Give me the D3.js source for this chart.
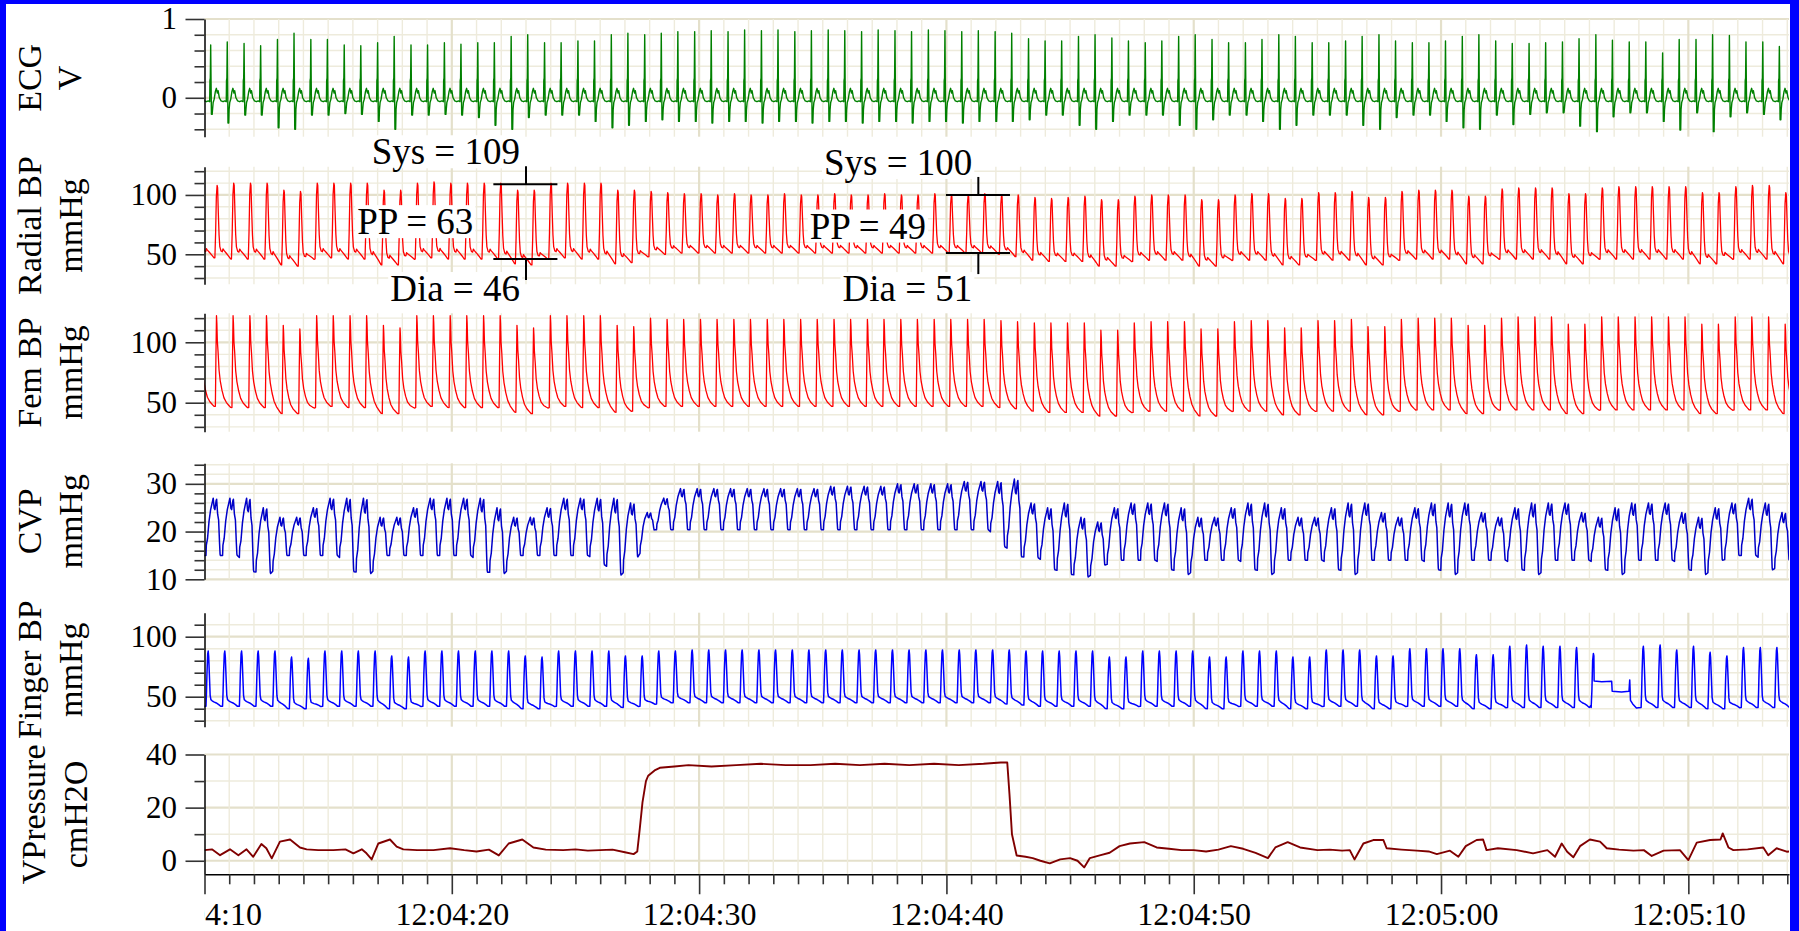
<!DOCTYPE html>
<html>
<head>
<meta charset="utf-8">
<title>Hemodynamic recording</title>
<script src="https://cdn.jsdelivr.net/npm/d3@7/dist/d3.min.js"></script>
<style>
  html, body { margin: 0; padding: 0; background: #fff; }
  svg { display: block; }
</style>
</head>
<body>
<svg id="chart" width="1799" height="931"></svg>
<script>
// Six-channel physiological recording, 12:04:10 - 12:05:14
// Traces are rebuilt beat by beat from per-beat values

// ---- time axis (seconds after 12:04:00) ----
const TIME_DOMAIN = [10, 74.07];
const TIME_MAJOR = [10, 20, 30, 40, 50, 60, 70];
const TIME_LABELS = ['12:04:10', '12:04:20', '12:04:30', '12:04:40', '12:04:50', '12:05:00', '12:05:10'];

// ---- y ticks ----
const ECG_TICKS = [0, 1];
const ECG_MINOR = [-0.4, -0.2, 0, 0.2, 0.4, 0.6, 0.8, 1];
const BP_TICKS = [50, 100];
const BP_MINOR = [30, 40, 50, 60, 70, 80, 90, 100, 110, 120];
const CVP_TICKS = [10, 20, 30];
const CVP_MINOR = [10, 12, 14, 16, 18, 20, 22, 24, 26, 28, 30, 32, 34];
const VP_TICKS = [0, 20, 40];
const VP_MINOR = [0, 10, 20, 30, 40];

// ---- beat times (R wave, s) ----
const BEAT_T = [9.58, 10.25, 10.92, 11.60, 12.27, 12.95, 13.62, 14.30, 14.97, 15.65,
  16.32, 17.00, 17.67, 18.35, 19.02, 19.70, 20.37, 21.05, 21.72, 22.40,
  23.07, 23.75, 24.42, 25.10, 25.77, 26.45, 27.12, 27.80, 28.47, 29.14,
  29.82, 30.49, 31.17, 31.84, 32.52, 33.19, 33.87, 34.54, 35.22, 35.89,
  36.57, 37.24, 37.92, 38.59, 39.27, 39.94, 40.62, 41.29, 41.97, 42.64,
  43.32, 43.99, 44.66, 45.34, 46.01, 46.69, 47.36, 48.04, 48.71, 49.39,
  50.06, 50.74, 51.41, 52.09, 52.76, 53.44, 54.11, 54.79, 55.46, 56.14,
  56.81, 57.49, 58.16, 58.84, 59.51, 60.18, 60.86, 61.53, 62.21, 62.88,
  63.56, 64.23, 64.91, 65.58, 66.26, 66.93, 67.61, 68.28, 68.96, 69.63,
  70.31, 70.98, 71.66, 72.33, 73.01, 73.68, 74.36];

// ---- ECG (V) ----
const ECG_R = [0.70, 0.67, 0.71, 0.69, 0.66, 0.74, 0.82, 0.74, 0.74, 0.67,
  0.66, 0.70, 0.78, 0.67, 0.67, 0.70, 0.68, 0.70, 0.70, 0.78,
  0.80, 0.70, 0.70, 0.72, 0.72, 0.80, 0.82, 0.80, 0.82, 0.84,
  0.84, 0.85, 0.84, 0.86, 0.85, 0.86, 0.84, 0.85, 0.86, 0.85,
  0.84, 0.86, 0.85, 0.84, 0.86, 0.85, 0.84, 0.85, 0.84, 0.82,
  0.75, 0.72, 0.72, 0.78, 0.80, 0.76, 0.72, 0.70, 0.72, 0.78,
  0.80, 0.74, 0.70, 0.70, 0.74, 0.80, 0.78, 0.70, 0.70, 0.72,
  0.78, 0.80, 0.72, 0.70, 0.70, 0.72, 0.78, 0.80, 0.72, 0.69,
  0.69, 0.70, 0.71, 0.75, 0.80, 0.73, 0.71, 0.71, 0.57, 0.74,
  0.74, 0.80, 0.79, 0.71, 0.71, 0.65, 0.70];
const ECG_S = [-0.25, -0.21, -0.32, -0.22, -0.22, -0.38, -0.40, -0.22, -0.22, -0.20,
  -0.21, -0.30, -0.40, -0.22, -0.22, -0.21, -0.22, -0.25, -0.35, -0.40,
  -0.25, -0.22, -0.22, -0.22, -0.30, -0.38, -0.35, -0.30, -0.28, -0.30,
  -0.30, -0.32, -0.30, -0.30, -0.32, -0.30, -0.30, -0.32, -0.30, -0.30,
  -0.32, -0.30, -0.30, -0.32, -0.30, -0.30, -0.32, -0.30, -0.30, -0.30,
  -0.28, -0.22, -0.22, -0.35, -0.40, -0.30, -0.22, -0.22, -0.22, -0.35,
  -0.40, -0.28, -0.22, -0.22, -0.30, -0.40, -0.35, -0.22, -0.22, -0.22,
  -0.35, -0.40, -0.25, -0.22, -0.22, -0.30, -0.38, -0.40, -0.22, -0.34,
  -0.21, -0.19, -0.19, -0.36, -0.43, -0.24, -0.19, -0.19, -0.30, -0.41,
  -0.19, -0.43, -0.24, -0.19, -0.21, -0.28, -0.22];
// one complex around the R wave: [s from R, V] ('R' / 'S' take the per-beat value)
const ECG_SHAPE = [[-0.10, -0.04], [-0.04, -0.05], [-0.03, 0.22], [-0.015, 0.25], [0, 'R'],
  [0.015, 0.20], [0.03, 'S'], [0.06, 'S'], [0.075, -0.15], [0.10, -0.06], [0.14, -0.02],
  [0.19, 0.08], [0.23, 0.12], [0.27, 0.06], [0.30, 0.09], [0.35, 0.00], [0.42, -0.04],
  [0.50, -0.05], [0.57, -0.04]];

// ---- Radial BP (mmHg) ----
const RAD_SYS = [110, 108, 110, 110, 110, 104, 103, 110, 110, 110,
  110, 104, 104, 110, 111, 110, 110, 110, 110, 104,
  104, 110, 110, 110, 110, 104, 104, 103, 102, 101,
  101, 100, 101, 100, 100, 101, 100, 100, 101, 100,
  100, 101, 100, 100, 101, 100, 100, 101, 100, 100,
  98, 97, 98, 99, 96, 96, 99, 100, 100, 100,
  96, 96, 100, 101, 101, 97, 97, 102, 102, 103,
  98, 98, 103, 104, 104, 104, 99, 99, 105, 106,
  106, 106, 101, 101, 106, 107, 107, 107, 107, 107,
  102, 102, 107, 108, 108, 102, 107];
const RAD_DIA = [46, 47, 46, 46, 46, 41, 40, 46, 47, 46,
  46, 41, 41, 46, 47, 46, 46, 46, 46, 42,
  41, 46, 47, 46, 46, 42, 43, 48, 50, 51,
  51, 51, 51, 51, 51, 51, 51, 51, 51, 51,
  51, 51, 51, 51, 51, 51, 51, 51, 50, 48,
  45, 44, 44, 44, 40, 40, 44, 45, 45, 45,
  40, 40, 45, 45, 45, 41, 41, 45, 45, 45,
  41, 41, 45, 46, 46, 46, 42, 42, 46, 46,
  46, 46, 42, 42, 46, 46, 46, 46, 46, 46,
  42, 42, 46, 46, 46, 42, 46];
const RAD_SHAPE = [[0, 0], [0.03, 0.35], [0.06, 0.85], [0.09, 1], [0.11, 0.97], [0.14, 0.62],
  [0.17, 0.32], [0.20, 0.16], [0.25, 0.10], [0.30, 0.09], [0.33, 0.13], [0.37, 0.11],
  [0.45, 0.08], [0.55, 0.04], [0.64, 0], [0.675, 0]];

// ---- Femoral BP (mmHg) ----
const FEM_SYS = [122, 122, 122, 122, 122, 114, 111, 122, 122, 122,
  122, 114, 112, 122, 122, 122, 122, 122, 122, 114,
  112, 122, 122, 122, 122, 114, 113, 120, 119, 119,
  119, 119, 119, 119, 119, 119, 119, 119, 119, 119,
  119, 119, 119, 119, 119, 119, 119, 119, 118, 117,
  116, 116, 116, 116, 110, 110, 116, 117, 117, 117,
  111, 111, 117, 118, 118, 112, 112, 118, 118, 119,
  113, 113, 119, 120, 120, 120, 114, 114, 120, 121,
  121, 121, 115, 115, 121, 121, 121, 121, 121, 121,
  115, 115, 121, 121, 121, 115, 121];
const FEM_DIA = [47, 47, 46, 46, 46, 41, 41, 46, 47, 46,
  46, 41, 41, 46, 47, 46, 46, 46, 46, 42,
  41, 46, 47, 46, 46, 42, 43, 46, 47, 47,
  47, 47, 47, 47, 47, 47, 47, 47, 47, 47,
  47, 47, 47, 47, 47, 47, 47, 47, 46, 45,
  43, 42, 42, 42, 39, 39, 42, 43, 43, 43,
  39, 39, 43, 43, 43, 40, 40, 43, 43, 43,
  40, 40, 43, 44, 44, 44, 41, 41, 44, 44,
  44, 44, 41, 41, 44, 44, 44, 44, 44, 44,
  41, 41, 44, 44, 44, 41, 44];
const FEM_SHAPE = [[0, 0], [0.02, 0.5], [0.045, 1], [0.06, 0.92], [0.08, 0.72], [0.11, 0.60],
  [0.15, 0.40], [0.20, 0.28], [0.27, 0.18], [0.35, 0.10], [0.45, 0.05], [0.55, 0.02],
  [0.62, 0], [0.675, 0]];

// ---- CVP (mmHg): peak of each beat and the trough that follows it ----
const CVP_PEAK = [27, 27, 27, 27, 25, 23, 23, 25, 27, 27,
  27, 23, 23, 25, 27, 27, 27, 27, 25, 23,
  23, 25, 27, 27, 27, 27, 26, 24, 27, 29,
  29, 29, 29, 29, 29, 29, 29, 29, 29.5, 29.5,
  29.5, 29.5, 30, 30, 30, 30, 30.5, 30.5, 30.5, 31,
  26, 25, 26, 23, 22, 25, 26, 26, 26, 25,
  23, 23, 25, 26, 26, 25, 23, 23, 25, 26,
  26, 24, 23, 25, 26, 26, 26, 24, 23, 25,
  26, 26, 26, 24, 23, 25, 26, 26, 26, 24,
  23, 25, 26, 27, 26, 24, 26];
const CVP_TROUGH = [15, 15, 15, 15, 11.6, 11.2, 15, 15, 15, 15,
  11.6, 11.2, 15, 15, 15, 15, 15, 15, 11.5, 11.2,
  15, 15, 15, 15, 15, 13, 10.9, 14.7, 20.4, 20.4,
  20.4, 20.4, 20.4, 20.4, 20.4, 20.4, 20.4, 20.4, 20.4, 20.4,
  20.4, 20.4, 20.4, 20.4, 20.4, 20.4, 20.4, 20.4, 20.4, 16.8,
  14.7, 14.5, 12, 11, 10.5, 13, 14, 14, 14, 12,
  11, 14, 14, 14, 12, 11, 14, 14, 14, 12,
  11, 14, 14, 14, 14, 12, 11, 14, 14, 14,
  12, 11, 14, 14, 14, 12, 11, 14, 14, 14,
  12, 11, 14, 15, 15, 12, 14];
const CVP_SHAPE = [[0, 0], [0.085, 0], [0.10, 0.18], [0.15, 0.30], [0.21, 0.60], [0.275, 0.80],
  [0.38, 1], [0.42, 0.82], [0.45, 0.80], [0.50, 0.96], [0.52, 0.98], [0.56, 0.72],
  [0.60, 0.62], [0.64, 0.20], [0.66, 0.02], [0.675, 0]];

// ---- Finger BP (mmHg); null = beats lost in the cuff artifact ----
const FING_SYS = [88, 88, 88, 88, 88, 88, 83, 82, 88, 88,
  88, 88, 84, 83, 88, 88, 88, 88, 88, 88,
  84, 83, 88, 88, 88, 88, 84, 84, 88, 88,
  89, 89, 89, 89, 89, 89, 89, 89, 89, 89,
  89, 89, 89, 89, 89, 89, 89, 89, 89, 89,
  88, 88, 88, 88, 88, 83, 83, 88, 88, 88,
  88, 83, 83, 88, 88, 88, 83, 83, 89, 89,
  89, 84, 84, 90, 90, 90, 90, 85, 85, 92,
  93, 92, 92, 91, null, null, null, 92, 93, 89,
  92, 87, 84, 91, 91, 91, 91];
const FING_DIA = [42, 42, 42, 42, 42, 42, 40, 40, 42, 42,
  42, 42, 40, 40, 42, 42, 42, 42, 42, 42,
  40, 40, 42, 42, 42, 42, 41, 42, 44, 45,
  45, 45, 45, 45, 45, 45, 45, 45, 45, 45,
  45, 45, 45, 45, 45, 45, 45, 45, 45, 44,
  43, 42, 42, 42, 42, 40, 40, 42, 42, 42,
  42, 40, 40, 42, 42, 42, 40, 40, 42, 42,
  42, 40, 40, 42, 42, 42, 42, 40, 40, 41,
  41, 41, 41, 41, null, null, null, 41, 41, 41,
  41, 40, 40, 41, 41, 41, 41];
const FING_SHAPE = [[0, 0], [0.02, 0.25], [0.04, 0.60], [0.07, 0.95], [0.09, 1], [0.11, 0.90],
  [0.14, 0.55], [0.17, 0.20], [0.20, 0.12], [0.25, 0.10], [0.32, 0.08], [0.42, 0.06],
  [0.52, 0.03], [0.60, 0], [0.675, 0]];
// cuff artifact around 12:05:06
const FING_GAP = [[66.07, 43], [66.10, 55], [66.13, 80], [66.16, 86], [66.18, 84], [66.19, 63],
  [66.5, 62.5], [66.9, 62.8], [66.92, 54.5], [67.3, 54], [67.6, 54.5], [67.63, 64],
  [67.66, 47], [67.75, 44], [67.9, 40.5]];

// ---- VPressure (cmH2O): [s, value] ----
const VP = [[10.0, 4.0], [10.3, 4.3], [10.63, 2.1], [11.03, 4.3], [11.37, 2.1], [11.7, 4.3],
  [11.97, 1.5], [12.3, 6.3], [12.5, 4.7], [12.72, 0.9], [13.05, 7.2], [13.46, 8.0],
  [13.86, 5.0], [14.13, 4.3], [14.6, 4.0], [15.21, 4.0], [15.7, 4.3], [16.02, 2.8],
  [16.36, 4.3], [16.55, 2.8], [16.76, 0.5], [17.03, 6.5], [17.5, 8.0], [17.77, 5.3],
  [18.04, 4.3], [18.6, 4.0], [19.26, 4.0], [19.93, 4.7], [20.5, 4.0], [21.0, 3.5],
  [21.5, 4.2], [21.9, 2.0], [22.3, 6.5], [22.85, 8.0], [23.3, 5.0], [23.8, 4.2],
  [24.5, 4.0], [25.0, 4.3], [25.5, 3.8], [26.0, 4.0], [26.5, 4.2], [27.0, 3.2],
  [27.35, 2.5], [27.5, 3.5], [27.6, 12], [27.71, 22], [27.85, 30], [27.94, 32],
  [28.2, 34], [28.41, 35], [29.0, 35.5], [29.57, 36], [30.5, 35.5], [31.5, 36],
  [32.5, 36.5], [33.5, 36], [34.5, 36], [35.5, 36.5], [36.5, 36], [37.5, 36.5],
  [38.5, 36], [39.5, 36.5], [40.5, 36], [41.5, 36.5], [42.2, 37], [42.46, 37],
  [42.55, 25], [42.65, 10], [42.84, 2], [43.2, 1.5], [43.49, 1], [43.8, 0],
  [44.18, -1], [44.6, 0.5], [45.0, 1], [45.3, 0], [45.57, -2.5], [45.8, 1],
  [46.2, 2], [46.6, 3], [47.0, 5.5], [47.42, 6.5], [48.0, 7], [48.5, 5],
  [49.0, 4.5], [49.51, 4], [50.0, 4], [50.5, 3.5], [51.0, 4.2], [51.5, 5.5],
  [52.0, 4.5], [52.5, 3.0], [53.0, 1.0], [53.3, 5], [53.8, 7], [54.3, 5],
  [55.0, 4], [55.5, 4.2], [56.0, 3.8], [56.31, 4], [56.5, 0.5], [56.86, 6.5],
  [57.26, 7.8], [57.67, 7.8], [57.8, 4.7], [58.4, 4.2], [59.02, 3.8], [59.5, 3.5],
  [59.83, 2.5], [60.36, 3.8], [60.7, 1.5], [61.0, 5.5], [61.44, 7.8], [61.7, 8],
  [61.84, 4], [62.3, 4.7], [63.06, 4], [63.72, 2.8], [64.3, 4], [64.61, 1.5],
  [64.88, 6.5], [65.1, 3.4], [65.35, 1.3], [65.62, 5.5], [66.02, 8], [66.43, 7.2],
  [66.7, 4.7], [67.2, 4.2], [67.78, 3.8], [68.2, 4], [68.52, 1.8], [69.0, 3.8],
  [69.66, 4], [70.0, 0.25], [70.34, 6.8], [70.88, 7.8], [71.3, 8], [71.39, 10.3],
  [71.62, 5], [71.82, 4], [72.4, 4.3], [73.03, 5], [73.23, 2.1], [73.57, 4.7],
  [73.98, 3.4], [74.1, 3.5]];

// ---- pulse pressure callouts on the radial trace ----
const CALLOUTS = [
  { sys: 109, dia: 46, pp: 63, t0: 21.68, t1: 24.27, tc: 23.0 },
  { sys: 100, dia: 51, pp: 49, t0: 39.98, t1: 42.57, tc: 41.29 }
];

// ---------------------------------------------------------------

// ECG: place the complex on every R wave
function ecgSeries() {
  const pts = [];
  BEAT_T.forEach((r, i) => {
    ECG_SHAPE.forEach(([dt, v]) => {
      const val = v === 'R' ? ECG_R[i] : v === 'S' ? ECG_S[i] : v;
      pts.push([r + dt, val]);
    });
  });
  return pts;
}

// pressure: one pulse per beat, stretched between this beat's floor and the next one
function pulseSeries(offset, hi, lo, shape, extra) {
  const pts = [];
  const len = shape[shape.length - 1][0];
  for (let i = 0; i < BEAT_T.length - 1; i++) {
    if (hi[i] == null) continue;
    const t0 = BEAT_T[i] + offset;
    const dur = BEAT_T[i + 1] - BEAT_T[i];
    const loA = lo[i];
    const loB = lo[i + 1] == null ? lo[i] : lo[i + 1];
    shape.forEach(([dt, s]) => {
      const f = dt / len;
      const base = loA + (loB - loA) * f;
      pts.push([t0 + f * dur, base + s * (hi[i] - base)]);
    });
  }
  if (extra) extra.forEach(p => pts.push(p));
  return pts.sort((a, b) => a[0] - b[0]);
}

const svg = d3.select('#chart');
const W = 1799, H = 931;
const PLOT_L = 204.5, PLOT_R = 1789;
const FONT = '"Liberation Serif", "Times New Roman", serif';

const x = d3.scaleLinear().domain(TIME_DOMAIN).range([PLOT_L, PLOT_R]);

const panels = [
  { label: ['ECG', 'V'], domain: [-0.494, 1], range: [136.7, 19], ticks: ECG_TICKS, minor: ECG_MINOR,
    color: '#008000', data: ecgSeries(), lx: [41, 81], width: 1.4 },
  { label: ['Radial BP', 'mmHg'], domain: [24.7, 123.8], range: [284.3, 166.7], ticks: BP_TICKS, minor: BP_MINOR,
    color: '#ff0000', data: pulseSeries(0.17, RAD_SYS, RAD_DIA, RAD_SHAPE), lx: [41, 82] },
  { label: ['Fem BP', 'mmHg'], domain: [26, 124], range: [431.7, 313.3], ticks: BP_TICKS, minor: BP_MINOR,
    color: '#ff0000', data: pulseSeries(0.19, FEM_SYS, FEM_DIA, FEM_SHAPE), lx: [41, 82] },
  { label: ['CVP', 'mmHg'], domain: [10, 34.3], range: [579.3, 463.3], ticks: CVP_TICKS, minor: CVP_MINOR,
    color: '#0000c8', data: pulseSeries(-0.275, CVP_PEAK, CVP_TROUGH, CVP_SHAPE), lx: [41, 82], width: 1.5 },
  { label: ['Finger BP', 'mmHg'], domain: [25, 120], range: [726.7, 612.7], ticks: BP_TICKS, minor: BP_MINOR.slice(0, -1),
    color: '#0000ff', data: pulseSeries(-0.19, FING_SYS, FING_DIA, FING_SHAPE, FING_GAP), lx: [41, 82], width: 1.5 },
  { label: ['VPressure', 'cmH2O'], domain: [-5.1, 40], range: [874.3, 754.5], ticks: VP_TICKS, minor: VP_MINOR,
    color: '#800000', data: VP, lx: [45, 87], width: 1.9 }
];
panels.forEach(p => { p.y = d3.scaleLinear().domain(p.domain).range(p.range); });

svg.append('defs').append('clipPath').attr('id', 'plotClip')
  .append('rect').attr('x', PLOT_L).attr('y', 0).attr('width', PLOT_R - PLOT_L).attr('height', H);
svg.select('defs').append('clipPath').attr('id', 'labelClip')
  .append('rect').attr('x', PLOT_L - 0.5).attr('y', 0).attr('width', W).attr('height', H);

// Grid
const seconds = d3.range(11, 75);
panels.forEach(p => {
  const g = svg.append('g');
  const top = p.range[1], bot = p.range[0];
  g.selectAll('.hg').data(p.minor).enter().append('line')
    .attr('x1', PLOT_L).attr('x2', PLOT_R)
    .attr('y1', d => p.y(d)).attr('y2', d => p.y(d))
    .attr('stroke', d => p.ticks.includes(d) ? '#e4e0cb' : '#eeebdc')
    .attr('stroke-width', d => p.ticks.includes(d) ? 2.2 : 1.4);
  g.selectAll('.vg').data(seconds.filter(s => s <= TIME_DOMAIN[1])).enter().append('line')
    .attr('x1', d => x(d)).attr('x2', d => x(d))
    .attr('y1', top).attr('y2', bot)
    .attr('stroke', d => d % 10 === 0 ? '#e4e0cb' : '#eeebdc')
    .attr('stroke-width', d => d % 10 === 0 ? 2.2 : 1.4);
});

// Traces
panels.forEach(p => {
  const line = d3.line().x(d => x(d[0])).y(d => p.y(d[1]));
  svg.append('path')
    .datum(p.data)
    .attr('clip-path', 'url(#plotClip)')
    .attr('d', line)
    .attr('fill', 'none')
    .attr('stroke', p.color)
    .attr('stroke-width', p.width || 1.3)
    .attr('stroke-linejoin', 'round');
});

// Y axes
panels.forEach(p => {
  const g = svg.append('g').attr('transform', `translate(${PLOT_L},0)`);
  g.append('g')
    .call(d3.axisLeft(p.y).tickValues(p.minor.filter(v => !p.ticks.includes(v))).tickSize(10).tickSizeOuter(0).tickFormat(''))
    .call(a => a.select('.domain').attr('stroke', '#000').attr('stroke-width', 1.5))
    .call(a => a.selectAll('.tick line').attr('stroke', '#333').attr('stroke-width', 1.6));
  g.append('g')
    .call(d3.axisLeft(p.y).tickValues(p.ticks).tickSize(19).tickSizeOuter(0).tickPadding(8.5)
      .tickFormat(d3.format('d')))
    .call(a => a.select('.domain').remove())
    .call(a => a.selectAll('.tick line').attr('stroke', '#333').attr('stroke-width', 1.6))
    .call(a => a.selectAll('text').attr('fill', '#000').attr('font-size', '31px').attr('font-family', FONT));

  // channel label, rotated
  const mid = (p.range[0] + p.range[1]) / 2;
  p.label.forEach((txt, j) => {
    svg.append('text')
      .attr('transform', `translate(${p.lx[j]},${mid}) rotate(-90)`)
      .attr('text-anchor', 'middle')
      .attr('font-family', FONT)
      .attr('font-size', '34px')
      .attr('fill', '#000')
      .text(txt);
  });
});

// Time axis at the bottom of the last panel
const last = panels[panels.length - 1];
const xa = svg.append('g').attr('transform', `translate(0,${last.range[0]})`);
xa.append('g')
  .call(d3.axisBottom(x).tickValues(seconds.filter(s => s % 10 !== 0 && s <= TIME_DOMAIN[1])).tickSize(10).tickSizeOuter(0).tickFormat(''))
  .call(a => a.select('.domain').attr('stroke', '#000').attr('stroke-width', 1.5))
  .call(a => a.selectAll('.tick line').attr('stroke', '#333').attr('stroke-width', 1.6));
xa.append('g')
  .attr('clip-path', 'url(#labelClip)')
  .call(d3.axisBottom(x).tickValues(TIME_MAJOR).tickSize(20).tickSizeOuter(0).tickPadding(8)
    .tickFormat((d, i) => TIME_LABELS[i]))
  .call(a => a.select('.domain').remove())
  .call(a => a.selectAll('.tick line').attr('stroke', '#333').attr('stroke-width', 1.6))
  .call(a => a.selectAll('text').attr('fill', '#000').attr('font-size', '32px').attr('font-family', FONT));

// Callouts on the radial trace
const yRad = panels[1].y;
const DIA_DY = [42, 48];   // baseline of the "Dia" text below its bracket line
function boxedText(txt, px, py) {
  const t = svg.append('text')
    .attr('x', px).attr('y', py)
    .attr('text-anchor', 'end')
    .attr('font-family', FONT)
    .attr('font-size', '37px')
    .attr('fill', '#000')
    .text(txt);
  const bb = t.node().getBBox();
  svg.insert('rect', () => t.node())
    .attr('x', bb.x - 2).attr('y', bb.y + 4)
    .attr('width', bb.width + 4).attr('height', bb.height - 8)
    .attr('fill', '#fff');
}
CALLOUTS.forEach((c, i) => {
  const x0 = x(c.t0), x1 = x(c.t1), xc = x(c.tc);
  const ys = yRad(c.sys), yd = yRad(c.dia);
  const g = svg.append('g').attr('stroke', '#000').attr('stroke-width', 2);
  g.append('line').attr('x1', x0).attr('x2', x1).attr('y1', ys).attr('y2', ys);
  g.append('line').attr('x1', xc).attr('x2', xc).attr('y1', ys - 18).attr('y2', ys);
  g.append('line').attr('x1', x0).attr('x2', x1).attr('y1', yd).attr('y2', yd);
  g.append('line').attr('x1', xc).attr('x2', xc).attr('y1', yd).attr('y2', yd + 21);
  boxedText(`Sys = ${c.sys}`, xc - 6, ys - 20);
  boxedText(`PP = ${c.pp}`, x0 - 20, (ys + yd) / 2 + 12.5 + i * 2);
  boxedText(`Dia = ${c.dia}`, xc - 6, yd + DIA_DY[i]);
});

// Blue frame
svg.append('rect').attr('x', 0).attr('y', 0).attr('width', W).attr('height', 4).attr('fill', '#0000ff');
svg.append('rect').attr('x', 0).attr('y', 0).attr('width', 6).attr('height', H).attr('fill', '#0000ff');
svg.append('rect').attr('x', 1790).attr('y', 0).attr('width', 9).attr('height', H).attr('fill', '#0000ff');
</script>
</body>
</html>
